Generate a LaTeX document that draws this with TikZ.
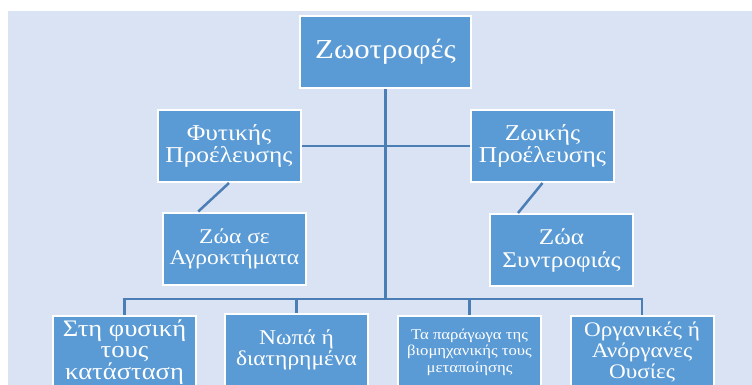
\documentclass[tikz,border=0pt]{standalone}
\usepackage{fontspec}
\setmainfont[FakeStretch=1.12]{Liberation Serif}
\usepackage{tikz}
\usetikzlibrary{positioning,calc}
\usepackage{xcolor}
\definecolor{pagebg}{HTML}{DAE3F3}
\definecolor{boxfill}{HTML}{5B9BD5}
\definecolor{linkcol}{HTML}{4A7EB5}

\begin{document}
\begin{tikzpicture}[x=1pt, y=-1pt,
        card/.style={draw=white, line width=2pt, fill=boxfill, text=white,
            align=center, inner sep=0pt, minimum width=143pt, minimum height=72pt},
        link/.style={draw=linkcol, line width=2.5pt}]
                    \useasboundingbox (0,0) rectangle (752,385);
                    \clip (0,0) rectangle (752,385);
                    \fill[white] (0,0) rectangle (752,385);
                    \fill[pagebg] (8,11) rectangle (752,385);
                    \node[card, minimum width=171pt, font={\fontsize{27.5}{28}\selectfont}] (feed) at (385.5,52) {Ζωοτροφές};
                    \node[card, font={\fontsize{22.7}{21.5}\selectfont}] (plant) at (229,146) {Φυτικής\\Προέλευσης};
                    \node[card, font={\fontsize{22.7}{21.5}\selectfont}] (animal) at (542.5,146) {Ζωικής\\Προέλευσης};
                    \node[card, font={\fontsize{21}{21}\selectfont}] (farm) at (234.5,248.5) {Ζώα σε\\Αγροκτήματα};
                    \node[card, font={\fontsize{22.5}{23}\selectfont}] (pet) at (561.5,250) {Ζώα\\Συντροφιάς};
                    \node[card, font={\fontsize{23.7}{21.5}\selectfont}] (natural) at (124.5,352) {Στη φυσική\\τους\\κατάσταση};
                    \node[card, font={\fontsize{21}{21}\selectfont}] (fresh) at (296.5,350) {Νωπά ή\\διατηρημένα};
                    \node[card, font={\fontsize{14.9}{16.5}\selectfont}] (industry) at (469.5,352) {Τα παράγωγα της\\βιομηχανικής τους\\μεταποίησης};
                    \node[card, font={\fontsize{20.7}{21}\selectfont}] (organic) at (642,352) {Οργανικές ή\\Ανόργανες\\Ουσίες};
                    \coordinate (bus) at (385.5,299);
                    \draw[link] (feed.south) -- (bus);
                    \draw[link] (plant.east) -- (animal.west);
                    \draw[link] (plant.south) -- ($(farm.north west)!.25!(farm.north east)$);
                    \draw[link] (animal.south) -- ($(pet.north west)!.2!(pet.north east)$);
                    \foreach \leaf in {natural,fresh,industry,organic}
                        \draw[link] (bus) -| (\leaf.north);
                \end{tikzpicture}
\end{document}
